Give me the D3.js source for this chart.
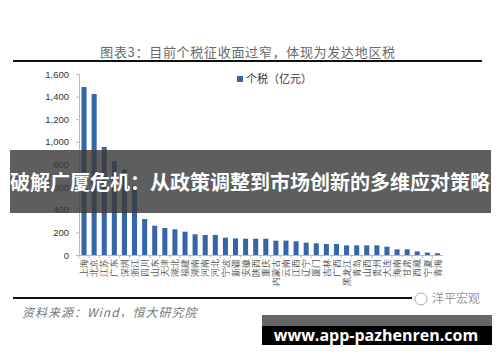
<!DOCTYPE html>
<html>
<head>
<meta charset="utf-8">
<script src="https://cdn.jsdelivr.net/npm/d3@7"></script>
<style>
body { margin:0; background:#fff; }
svg { display:block; font-family:"Noto Sans CJK SC", "Noto Sans", sans-serif; }
.yaxis text { font-family:"Liberation Sans", Arial, sans-serif; font-size:9.5px; fill:#333; }
.xaxis text { font-size:9px; fill:#555; }
</style>
</head>
<body>
<div class="tax-wrapper"></div>
<script>
const regions = ['上海','北京','江苏','广东','深圳','浙江','四川','山东','天津','湖北','福建','湖南',
	'河南','河北','宁波','新疆','安徽','陕西','重庆','内蒙古','云南','江西','辽宁','厦门',
	'吉林','广西','黑龙江','青岛','山西','贵州','大连','海南','甘肃','西藏','宁夏','青海']

const taxValues = [1485,1423,955,831,757,600,318,259,239,227,206,183,
	177,177,153,147,144,144,144,127,127,121,109,103,
	97,97,85,85,85,85,74,50,50,32,21,15]

const yTicks = [0,200,400,600,800,1000,1200,1400,1600]

const width = 500
const height = 362
const margin = {left:79, top:74, right:57.5, bottom:107}

const svg = d3.select('.tax-wrapper')
.append('svg')
.attr('width', width)
.attr('height', height)

svg.append('rect').attr('width', width).attr('height', height).attr('fill', '#fff')

// title + rules
svg.append('text')
.attr('x', 248).attr('y', 57)
.attr('text-anchor', 'middle')
.attr('font-size', 13)
.attr('fill', '#6a6a6a')
.attr('letter-spacing', 0.7)
.text('图表3：目前个税征收面过窄，体现为发达地区税')

svg.append('line').attr('x1', 13).attr('x2', 482).attr('y1', 61).attr('y2', 61)
.attr('stroke', '#111').attr('stroke-width', 2)

svg.append('line').attr('x1', 13).attr('x2', 412).attr('y1', 298).attr('y2', 298)
.attr('stroke', '#111').attr('stroke-width', 2)

const xScale = d3.scaleBand()
.domain(regions)
.range([margin.left, width - margin.right])
.paddingInner(0.5)
.paddingOuter(0.25)

const yScale = d3.scaleLinear()
.domain([0, 1600])
.range([height - margin.bottom, margin.top])

const yAxis = svg.append('g')
.attr('class', 'yaxis')
.attr('transform', `translate(${margin.left},0)`)
.call(d3.axisLeft(yScale).tickValues(yTicks).tickSize(3).tickPadding(7)
	.tickFormat(d3.format(',')))
yAxis.selectAll('path, line').attr('stroke', '#bbb')

const xAxis = svg.append('g')
.attr('class', 'xaxis')
.attr('transform', `translate(0,${height - margin.bottom})`)
.call(d3.axisBottom(xScale).tickSize(0).tickSizeOuter(0))
xAxis.select('path').attr('stroke', '#bbb')
xAxis.selectAll('.tick text')
.attr('transform', 'rotate(-90)')
.attr('text-anchor', 'end')
.attr('x', -4)
.attr('y', 0)
.attr('dy', '0.35em')

// little tick marks between categories
xAxis.selectAll('.sep')
.data(regions)
.enter().append('line')
.attr('x1', d => xScale(d) - xScale.step() * 0.25)
.attr('x2', d => xScale(d) - xScale.step() * 0.25)
.attr('y1', 0).attr('y2', 3)
.attr('stroke', '#bbb')

svg.append('g')
.selectAll('rect')
.data(taxValues)
.enter().append('rect')
.attr('x', (d, i) => xScale(regions[i]))
.attr('y', d => yScale(d))
.attr('width', xScale.bandwidth())
.attr('height', d => yScale(0) - yScale(d))
.attr('fill', '#3566a8')

// legend
const legend = svg.append('g').attr('transform', 'translate(237,76)')
legend.append('rect').attr('width', 6).attr('height', 6).attr('fill', '#3566a8')
legend.append('text').attr('x', 9).attr('y', 7)
.attr('font-size', 11).attr('fill', '#333')
.text('个税（亿元）')

// source
svg.append('text')
.attr('x', 22).attr('y', 317)
.attr('font-size', 12)
.attr('font-style', 'italic')
.attr('fill', '#777')
.attr('letter-spacing', 1)
.text('资料来源：Wind，恒大研究院')

svg.append('text')
.attr('x', 432).attr('y', 303)
.attr('font-size', 12)
.attr('fill', '#999')
.text('洋平宏观')
svg.append('circle').attr('cx', 421).attr('cy', 299).attr('r', 6)
.attr('fill', 'none').attr('stroke', '#aaa')

// headline banner
svg.append('rect')
.attr('x', 10).attr('y', 150).attr('width', 481).attr('height', 63)
.attr('fill', '#3a3a3a').attr('fill-opacity', 0.82)
svg.append('text')
.attr('x', 250).attr('y', 190)
.attr('text-anchor', 'middle')
.attr('font-size', 20)
.attr('font-weight', 'bold')
.attr('fill', '#fff')
.text('破解广厦危机：从政策调整到市场创新的多维应对策略')

// url box
svg.append('rect').attr('x', 262).attr('y', 315).attr('width', 230).attr('height', 12).attr('fill', '#666')
svg.append('rect').attr('x', 262).attr('y', 326).attr('width', 230).attr('height', 19).attr('fill', '#000')
svg.append('text')
.attr('x', 376).attr('y', 341)
.attr('text-anchor', 'middle')
.attr('font-family', '"Open Sans", sans-serif')
.attr('font-size', 16)
.attr('font-weight', 'bold')
.attr('fill', '#fff')
.text('www.app-pazhenren.com')
</script>
</body>
</html>
